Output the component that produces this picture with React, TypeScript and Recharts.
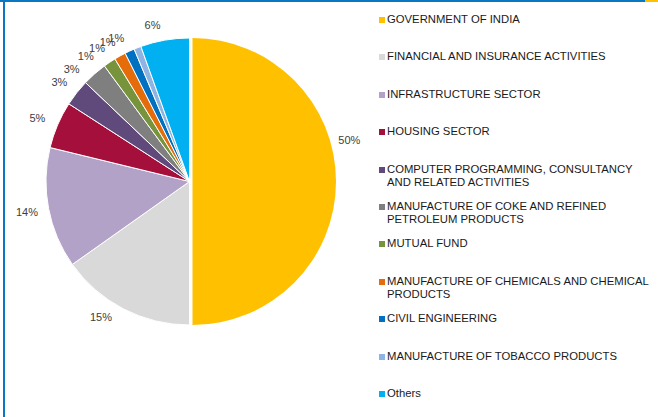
import { PieChart, Pie, Cell, Legend } from 'recharts'

const sectors = [
  'GOVERNMENT OF INDIA',
  'FINANCIAL AND INSURANCE ACTIVITIES',
  'INFRASTRUCTURE SECTOR',
  'HOUSING SECTOR',
  'COMPUTER PROGRAMMING, CONSULTANCY AND RELATED ACTIVITIES',
  'MANUFACTURE OF COKE AND REFINED PETROLEUM PRODUCTS',
  'MUTUAL FUND',
  'MANUFACTURE OF CHEMICALS AND CHEMICAL PRODUCTS',
  'CIVIL ENGINEERING',
  'MANUFACTURE OF TOBACCO PRODUCTS',
  'Others',
]
const shares = [50.0, 15.2, 13.6, 5.3, 3.0, 2.8, 1.4, 1.3, 1.1, 0.8, 5.5]
const colors = [
  '#FFC000', '#D9D9D9', '#B3A2C7', '#A50F3C', '#604A7B', '#7F7F7F',
  '#77933C', '#E46C0A', '#0070C0', '#8EB4E3', '#00B0F0',
]

const data = sectors.map((name, i) => ({ name, value: shares[i] }))

const RAD = Math.PI / 180

// excel's "best fit" pushes some labels around a little
const nudge: Record<number, number> = { 0: 15, 1: -5, 5: 4, 6: 5, 7: 5, 8: 5, 9: 5, 10: 3 }

function PctLabel(props: any) {
  const { cx, cy, midAngle, outerRadius, value, index } = props
  const a = (midAngle + (nudge[index] || 0)) * RAD
  const c = Math.cos(-a)
  const s = Math.sin(-a)
  const x = cx + (outerRadius + 22) * c
  const y = cy + (outerRadius + 17) * s
  return (
    <text x={x} y={y} fill="#404040" fontSize={11} fontFamily="Liberation Sans, Arial, sans-serif"
      textAnchor="middle" dominantBaseline="central">
      {Math.round(value)}%
    </text>
  )
}

function SectorLegend() {
  return (
    <div style={{ fontFamily: 'Liberation Sans, Arial, sans-serif', fontSize: 11.3, color: '#1a1a1a' }}>
      {data.map((d, i) => (
        <div key={d.name} style={{ position: 'relative', height: 37.4, paddingLeft: 10, lineHeight: '13px' }}>
          <span style={{ position: 'absolute', left: 2, top: 4, width: 6, height: 6, background: colors[i] }} />
          {d.name}
        </div>
      ))}
    </div>
  )
}

export default function App() {
  return (
    <div style={{ position: 'fixed', left: 0, top: 0, width: 658, height: 417, background: '#fff', overflow: 'hidden' }}>
      <div style={{ position: 'absolute', left: 0, top: 0, width: 645, height: 2, background: '#0A77C2' }} />
      <div style={{ position: 'absolute', left: 645, top: 0, width: 13, height: 2, background: '#FFC000' }} />
      <div style={{ position: 'absolute', left: 3, top: 0, width: 2, height: 417, background: '#0A77C2' }} />
      <PieChart width={658} height={417} margin={{ top: 0, right: 0, bottom: 0, left: 0 }}
        style={{ position: 'absolute', left: 0, top: 0 }}>
        <Pie
          data={data}
          dataKey="value"
          cx={189.5}
          cy={181.5}
          outerRadius={143.5}
          startAngle={90}
          endAngle={-270}
          stroke="#fff"
          strokeWidth={1}
          label={PctLabel}
          labelLine={false}
          isAnimationActive={false}
        >
          {data.map((d, i) => (
            <Cell key={d.name} fill={i === 0 ? 'none' : colors[i]} stroke={i === 0 ? 'none' : '#fff'} />
          ))}
        </Pie>
        <Pie
          data={data}
          dataKey="value"
          cx={192.5}
          cy={181.5}
          outerRadius={143.5}
          startAngle={90}
          endAngle={-270}
          stroke="none"
          isAnimationActive={false}
        >
          {data.map((d, i) => (
            <Cell key={d.name} fill={i === 0 ? colors[0] : 'none'} />
          ))}
        </Pie>
        <Legend
          layout="vertical"
          align="right"
          verticalAlign="top"
          content={<SectorLegend />}
          wrapperStyle={{ left: 377, top: 13, width: 272 }}
        />
      </PieChart>
    </div>
  )
}
